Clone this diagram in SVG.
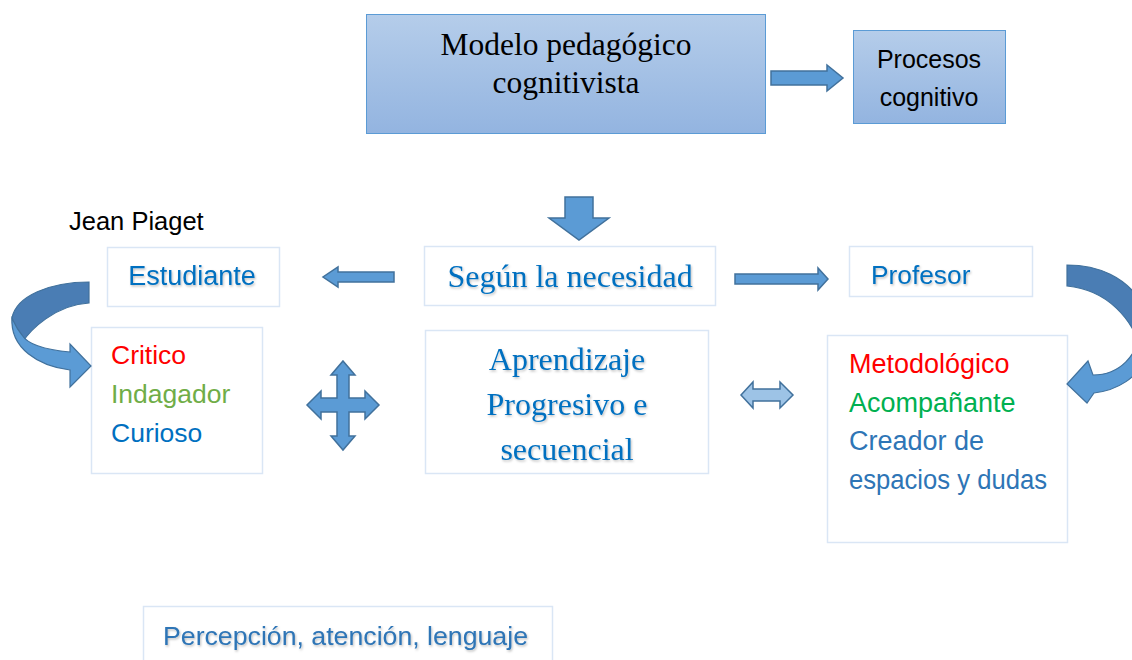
<svg xmlns="http://www.w3.org/2000/svg" width="1132" height="660" viewBox="0 0 1132 660">
<defs>
<linearGradient id="g1" x1="0" y1="0" x2="0" y2="1">
<stop offset="0" stop-color="#b5cdea"/>
<stop offset="1" stop-color="#93b4e0"/>
</linearGradient>
<filter id="sh" x="-5%" y="-5%" width="110%" height="120%">
<feDropShadow dx="1" dy="1.5" stdDeviation="1" flood-color="#000" flood-opacity="0.25"/>
</filter>
<style>
.box{fill:#fff;stroke:#dae6f5;stroke-width:1.5}
.arr{fill:#5b9bd5;stroke:#41719c;stroke-width:1.5;stroke-linejoin:miter}
.sans{font-family:"Liberation Sans",Arial,sans-serif}
.serif{font-family:"Liberation Serif","Times New Roman",serif}
.blue{fill:#0070c0}
.blue2{fill:#2e75b6}
</style>
</defs>
<rect width="1132" height="660" fill="#fff"/>

<g id="modelo">
<rect x="366.5" y="14.5" width="399" height="119" fill="url(#g1)" stroke="#5b9bd5" stroke-width="1"/>
<text class="serif" font-size="31.5" text-anchor="middle" fill="#000"><tspan x="566" y="55">Modelo pedagógico</tspan><tspan x="566" y="93">cognitivista</tspan></text>
</g>

<g id="procesos">
<rect x="853.5" y="30.5" width="152" height="93" fill="url(#g1)" stroke="#5b9bd5" stroke-width="1"/>
<text class="sans" font-size="25" text-anchor="middle" fill="#000"><tspan x="929" y="68">Procesos</tspan><tspan x="929" y="106">cognitivo</tspan></text>
</g>

<g id="jean">
<text class="sans" x="69" y="230" font-size="25.5" fill="#000">Jean Piaget</text>
</g>

<g id="estudiante">
<rect class="box" x="107.5" y="247.5" width="172" height="59"/>
<text class="sans blue" x="192" y="285" font-size="27" text-anchor="middle" filter="url(#sh)">Estudiante</text>
</g>

<g id="segun">
<rect class="box" x="424.5" y="246.5" width="291" height="59"/>
<text class="serif blue" x="570" y="287" font-size="32" text-anchor="middle" filter="url(#sh)">Según la necesidad</text>
</g>

<g id="profesor">
<rect class="box" x="849.5" y="246.5" width="183" height="50"/>
<text class="sans blue" x="871" y="284" font-size="26.3" filter="url(#sh)">Profesor</text>
</g>

<g id="rasgos">
<rect class="box" x="91.5" y="327.5" width="171" height="146"/>
<text class="sans" font-size="26.5"><tspan x="111" y="364" fill="#ff0000">Critico</tspan><tspan x="111" y="403" fill="#70ad47">Indagador</tspan><tspan x="111" y="442" fill="#0070c0">Curioso</tspan></text>
</g>

<g id="aprendizaje">
<rect class="box" x="425.5" y="330.5" width="283" height="143"/>
<text class="serif blue" font-size="32" text-anchor="middle" filter="url(#sh)"><tspan x="567" y="370">Aprendizaje</tspan><tspan x="567" y="415">Progresivo e</tspan><tspan x="567" y="460">secuencial</tspan></text>
</g>

<g id="metodologico">
<rect class="box" x="827.5" y="335.5" width="240" height="207"/>
<text class="sans" font-size="27"><tspan x="849" y="373" fill="#ff0000">Metodológico</tspan><tspan x="849" y="412" fill="#00b050">Acompañante</tspan><tspan x="849" y="450" fill="#2e75b6">Creador de</tspan></text>
<text class="sans" font-size="27" x="849" y="489" fill="#2e75b6" textLength="198" lengthAdjust="spacingAndGlyphs">espacios y dudas</text>
</g>

<g id="percepcion">
<rect class="box" x="143.5" y="606.5" width="409" height="60"/>
<text class="sans blue2" x="163" y="645" font-size="26.7" filter="url(#sh)">Percepción, atención, lenguaje</text>
</g>

<g id="connectors">
<path class="arr" d="M771 71 L827 71 L827 65 L843 78 L827 91 L827 85 L771 85 Z"/>
<path class="arr" d="M565 197 L593 197 L593 218 L609 218 L579 240 L549 218 L565 218 Z"/>
<path class="arr" d="M394 272 L338 272 L338 267 L323 277 L338 287 L338 282 L394 282 Z"/>
<path class="arr" d="M735 274 L818 274 L818 268 L828 279 L818 290 L818 284 L735 284 Z"/>
<path class="arr" d="M343 361 L355 375 L349 375 L349 398 L365 398 L365 391 L379 405 L365 419 L365 412 L349 412 L349 436 L355 436 L343 450 L331 436 L337 436 L337 412 L321 412 L321 419 L307 405 L321 391 L321 398 L337 398 L337 375 L331 375 Z"/>
<path d="M741 395 L753 382 L753 389 L780 389 L780 382 L793 395 L780 408 L780 401 L753 401 L753 408 Z" fill="#9dc3e6" stroke="#41719c" stroke-width="1.5"/>
<path d="M89 282 C50 282 16 296 12 318 C12 328 16 336 22 343 C30 330 55 305 89 303 Z" fill="#4a7db4" stroke="#41719c" stroke-width="1.2"/>
<path d="M12 318 C10 348 38 366 70 370 L70 387 L91 366 L70 344 L70 352 C48 350 28 345 22 335 C16 328 14 322 12 318 Z" fill="#5b9bd5" stroke="#41719c" stroke-width="1.2"/>
<path d="M1067 265 C1100 265 1125 278 1140 300 L1140 345 C1132 322 1110 290 1067 286 Z" fill="#4a7db4" stroke="#41719c" stroke-width="1.2"/>
<path d="M1140 330 C1138 355 1120 375 1093 375 L1088 361 L1067 384 L1087 403 L1094 393 C1120 390 1138 375 1140 365 Z" fill="#5b9bd5" stroke="#41719c" stroke-width="1.2"/>
</g>
</svg>
